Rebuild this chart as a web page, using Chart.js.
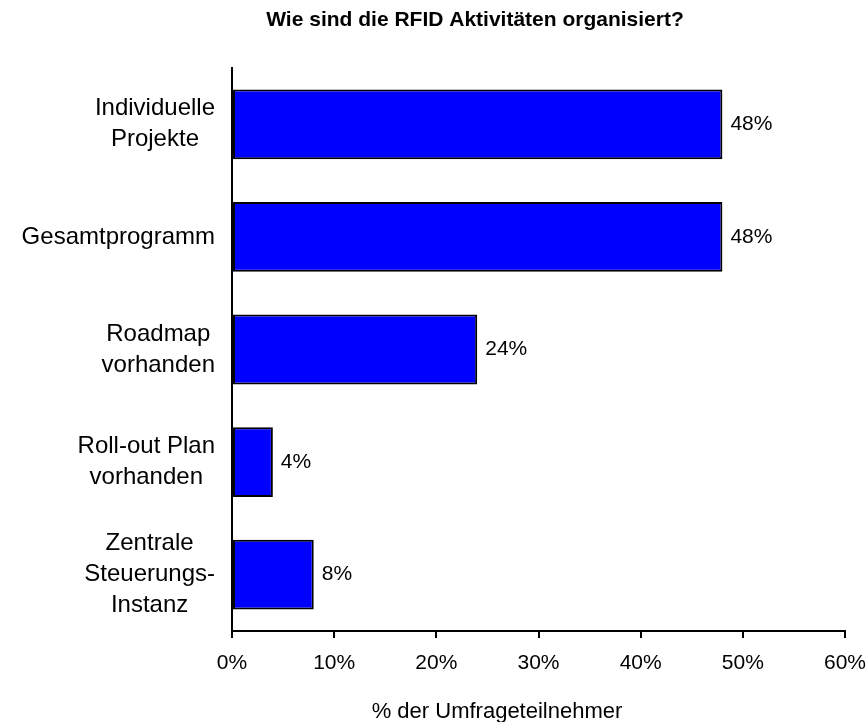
<!DOCTYPE html>
<html lang="de">
<head>
<meta charset="utf-8">
<title>RFID Aktivitäten</title>
<script src="https://cdn.jsdelivr.net/npm/chart.js@4.4.1/dist/chart.umd.min.js"></script>
<style>
    html, body { margin: 0; padding: 0; background: #ffffff; }
    #rahmen { width: 868px; height: 722px; }
</style>
</head>
<body>
<div id="rahmen"><canvas id="graficoRfid"></canvas></div>
<script>
// Daten der Umfrage
const kategorien = [
    ['Individuelle', 'Projekte'],
    ['Gesamtprogramm'],
    ['Roadmap', 'vorhanden'],
    ['Roll-out Plan', 'vorhanden'],
    ['Zentrale', 'Steuerungs-', 'Instanz']
];
const anteile = [48, 48, 24, 4, 8];
const achsenTicks = [0, 10, 20, 30, 40, 50, 60];
const titel = 'Wie sind die RFID Aktivitäten organisiert?';
const achsenTitel = '% der Umfrageteilnehmer';

const schrift = '"Liberation Sans", Arial, sans-serif';

// Kategorien, Werte und Titel selbst zeichnen
const beschriftungen = {
    id: 'beschriftungen',
    afterDraw(chart) {
        const ctx = chart.ctx;
        const yAchse = chart.scales.y;
        const links = chart.chartArea.left;
        ctx.save();
        ctx.fillStyle = '#000000';
        ctx.textBaseline = 'middle';

        // Kategorienamen: Zeilen zentriert, Block rechtsbündig an der Achse
        ctx.font = '24px ' + schrift;
        ctx.textAlign = 'center';
        kategorien.forEach(function(zeilen, i) {
            const breite = Math.max.apply(null, zeilen.map(function(z) { return ctx.measureText(z).width; }));
            const mitteX = links - 17 - breite / 2;
            const mitteY = yAchse.getPixelForValue(i);
            zeilen.forEach(function(z, j) {
                ctx.fillText(z, mitteX, mitteY + (j - (zeilen.length - 1) / 2) * 31);
            });
        });

        // Prozentwerte rechts neben den Balken
        ctx.font = '21px ' + schrift;
        ctx.textAlign = 'left';
        chart.getDatasetMeta(0).data.forEach(function(balken, i) {
            ctx.fillText(anteile[i] + '%', balken.x + 8, balken.y);
        });

        // Diagrammtitel und Achsentitel
        ctx.textAlign = 'center';
        ctx.font = 'bold 21px ' + schrift;
        ctx.fillText(titel, 475, 20);
        ctx.font = '22px ' + schrift;
        ctx.fillText(achsenTitel, 497, 712);
        ctx.restore();
    }
};

document.addEventListener('DOMContentLoaded', function() {
    new Chart(document.getElementById('graficoRfid'), {
        type: 'bar',
        data: {
            labels: kategorien,
            datasets: [{
                data: anteile,
                backgroundColor: '#0000ff',
                borderColor: '#000000',
                borderWidth: 2,
                borderSkipped: false,
                barPercentage: 0.62,
                categoryPercentage: 1
            }]
        },
        options: {
            indexAxis: 'y',
            responsive: true,
            maintainAspectRatio: false,
            animation: false,
            layout: {
                padding: { top: 68, right: 23, bottom: 0, left: 0 }
            },
            plugins: {
                legend: { display: false },
                title: { display: false },
                tooltip: { enabled: false }
            },
            scales: {
                x: {
                    min: 0,
                    max: 60,
                    afterBuildTicks: function(scale) {
                        scale.ticks = achsenTicks.map(function(v) { return { value: v }; });
                    },
                    afterFit: function(scale) {
                        scale.height = 91;
                        // Randlabels sollen die Zeichenfläche nicht verkleinern
                        scale.paddingLeft = 0;
                        scale.paddingRight = 0;
                    },
                    ticks: {
                        callback: function(v) { return v + '%'; },
                        color: '#000000',
                        font: { family: schrift, size: 21 },
                        padding: 13,
                        maxRotation: 0
                    },
                    grid: {
                        drawOnChartArea: false,
                        drawTicks: true,
                        tickLength: 7,
                        color: '#000000',
                        lineWidth: 2
                    },
                    border: { display: true, color: '#000000', width: 2 }
                },
                y: {
                    afterFit: function(scale) { scale.width = 232; },
                    ticks: { display: false },
                    grid: { display: false },
                    border: { display: true, color: '#000000', width: 2 }
                }
            }
        },
        plugins: [beschriftungen]
    });
});
</script>
</body>
</html>
